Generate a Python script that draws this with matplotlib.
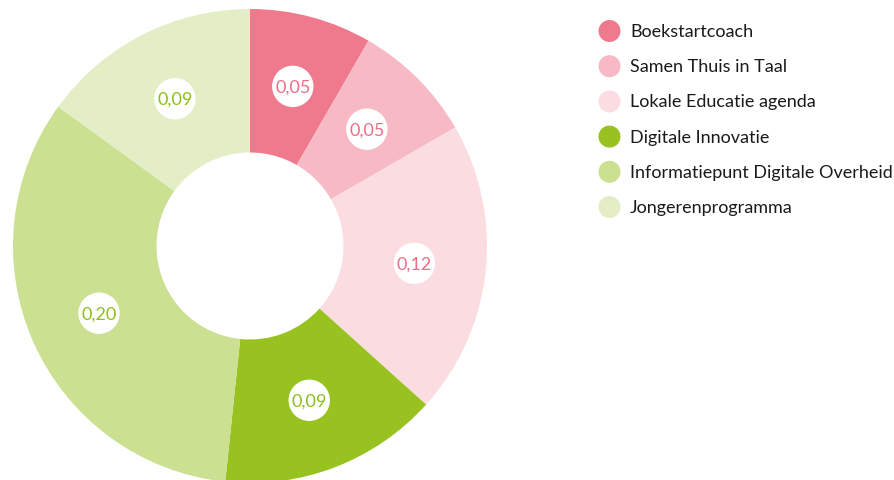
import matplotlib
matplotlib.use('Agg')
import matplotlib.pyplot as plt
import numpy as np

plt.rcParams['font.family'] = ['Lato', 'DejaVu Sans']

categories = ['Boekstartcoach', 'Samen Thuis in Taal', 'Lokale Educatie agenda',
              'Digitale Innovatie', 'Informatiepunt Digitale Overheid', 'Jongerenprogramma']
values = [0.05, 0.05, 0.12, 0.09, 0.20, 0.09]
value_labels = ['0,05', '0,05', '0,12', '0,09', '0,20', '0,09']
colors = ['#f07a8d', '#f7bac4', '#fbdce1', '#97c21f', '#cbe090', '#e3eec6']
text_colors = ['#ee6d86', '#ee6d86', '#ee6d86', '#8cbf17', '#8cbf17', '#8cbf17']

W, H = 895, 481
fig = plt.figure(figsize=(W / 100, H / 100), dpi=100)

cx, cy, R = 250, 247, 237
ax = fig.add_axes([(cx - R) / W, (H - cy - R) / H, 2 * R / W, 2 * R / H])
hole = 93.5 / R
wedges, _ = ax.pie(values, colors=colors, startangle=90, counterclock=False,
                   radius=1, wedgeprops=dict(width=1 - hole, linewidth=0))
ax.set_xlim(-1, 1)
ax.set_ylim(-1, 1)
ax.set_aspect('equal')
ax.axis('off')

mid_r = (1 + hole) / 2
for w, lab, tc in zip(wedges, value_labels, text_colors):
    ang = np.deg2rad((w.theta1 + w.theta2) / 2)
    x, y = mid_r * np.cos(ang), mid_r * np.sin(ang)
    ax.add_patch(plt.Circle((x, y), 20 / R, color='white', zorder=3))
    ax.text(x, y, lab, ha='center', va='center', color=tc, fontsize=13, zorder=4)

# legend drawn by hand in pixel coordinates
lg = fig.add_axes([0, 0, 1, 1])
lg.set_xlim(0, W)
lg.set_ylim(H, 0)
lg.axis('off')
lg.patch.set_alpha(0)
for i, (c, name) in enumerate(zip(colors, categories)):
    y = 32 + i * 35.2
    lg.add_patch(plt.Circle((609.5, y), 11, color=c, linewidth=0))
    lg.text(630, y, name, ha='left', va='center', fontsize=13, color='#1a1a1a')

fig.savefig('out.png', dpi=100)
